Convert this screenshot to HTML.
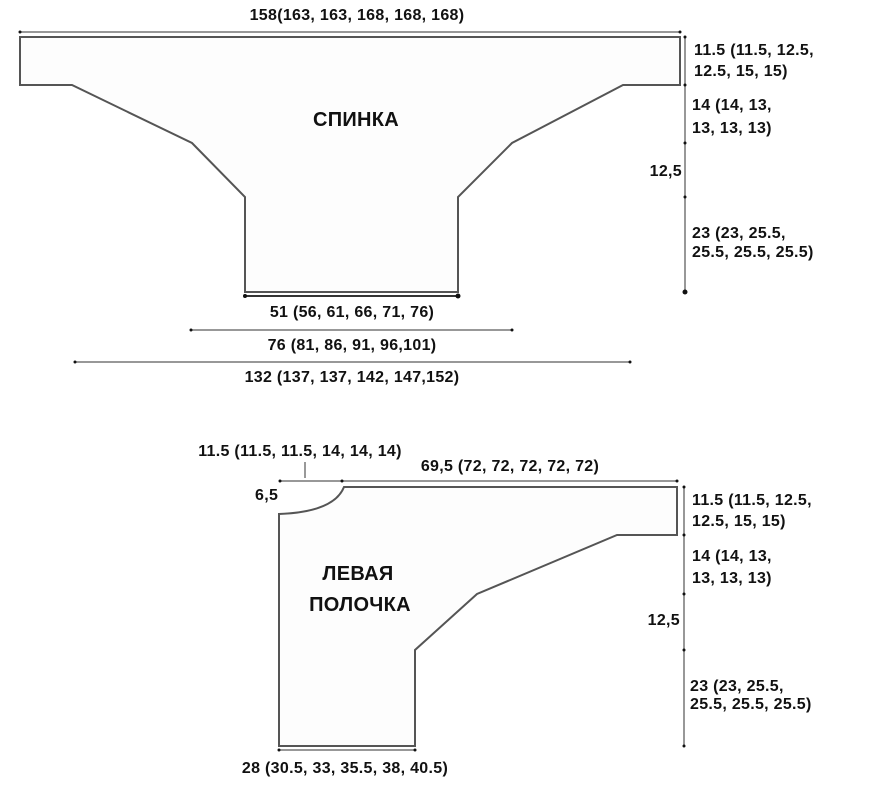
<!DOCTYPE html>
<html><head><meta charset="utf-8"><style>
html,body{margin:0;padding:0;background:#fff;}
svg text{font-family:"Liberation Sans",sans-serif;font-weight:bold;font-size:16px;letter-spacing:0.3px;fill:#111;}
</style></head><body>
<svg width="875" height="785" viewBox="0 0 875 785" xmlns="http://www.w3.org/2000/svg">
<g fill="none" stroke="#555" stroke-width="2">
<polygon points="20,37 680,37 680,85 623,85 512,143 458,197 458,292 245,292 245,197 192,143 72,85 20,85" fill="#fdfdfd"/>
<path d="M279,514 Q334,512 344,487 L677,487 L677,535 L617,535 L477,594 L415,650 L415,746 L279,746 Z" fill="#fdfdfd"/>
</g>
<g stroke="#777" stroke-width="1.5">
<line x1="20" y1="32" x2="680" y2="32"/>
<line x1="685" y1="37" x2="685" y2="292"/>
<line x1="245" y1="296" x2="458" y2="296" stroke="#333" stroke-width="2"/>
<line x1="191" y1="330" x2="512" y2="330"/>
<line x1="75" y1="362" x2="630" y2="362"/>
<line x1="280" y1="481" x2="677" y2="481"/>
<line x1="305" y1="462" x2="305" y2="478"/>
<line x1="684" y1="487" x2="684" y2="746"/>
<line x1="279" y1="750" x2="415" y2="750"/>
</g>
<g fill="#111">
<circle cx="20" cy="32" r="1.5"/><circle cx="680" cy="32" r="1.5"/>
<circle cx="685" cy="37" r="1.5"/><circle cx="685" cy="85" r="1.5"/><circle cx="685" cy="143" r="1.5"/><circle cx="685" cy="197" r="1.5"/><circle cx="685" cy="292" r="2.5"/>
<circle cx="245" cy="296" r="2"/><circle cx="458" cy="296" r="2.5"/>
<circle cx="191" cy="330" r="1.5"/><circle cx="512" cy="330" r="1.5"/>
<circle cx="75" cy="362" r="1.5"/><circle cx="630" cy="362" r="1.5"/>
<circle cx="280" cy="481" r="1.5"/><circle cx="342" cy="481" r="1.5"/><circle cx="677" cy="481" r="1.5"/>
<circle cx="684" cy="487" r="1.5"/><circle cx="684" cy="535" r="1.5"/><circle cx="684" cy="594" r="1.5"/><circle cx="684" cy="650" r="1.5"/><circle cx="684" cy="746" r="1.5"/>
<circle cx="279" cy="750" r="1.5"/><circle cx="415" cy="750" r="1.5"/>
</g>
<text x="357" y="20" text-anchor="middle">158(163, 163, 168, 168, 168)</text>
<text x="694" y="55">11.5 (11.5, 12.5,</text>
<text x="694" y="76">12.5, 15, 15)</text>
<text x="692" y="110">14 (14, 13,</text>
<text x="692" y="133">13, 13, 13)</text>
<text x="682" y="176" text-anchor="end">12,5</text>
<text x="692" y="238">23 (23, 25.5,</text>
<text x="692" y="257">25.5, 25.5, 25.5)</text>
<text x="356" y="126" text-anchor="middle" style="font-size:20px">СПИНКА</text>
<text x="352" y="317" text-anchor="middle">51 (56, 61, 66, 71, 76)</text>
<text x="352" y="350" text-anchor="middle">76 (81, 86, 91, 96,101)</text>
<text x="352" y="382" text-anchor="middle">132 (137, 137, 142, 147,152)</text>
<text x="300" y="456" text-anchor="middle">11.5 (11.5, 11.5, 14, 14, 14)</text>
<text x="510" y="471" text-anchor="middle">69,5 (72, 72, 72, 72, 72)</text>
<text x="255" y="500">6,5</text>
<text x="692" y="505">11.5 (11.5, 12.5,</text>
<text x="692" y="526">12.5, 15, 15)</text>
<text x="692" y="561">14 (14, 13,</text>
<text x="692" y="583">13, 13, 13)</text>
<text x="680" y="625" text-anchor="end">12,5</text>
<text x="690" y="691">23 (23, 25.5,</text>
<text x="690" y="709">25.5, 25.5, 25.5)</text>
<text x="358" y="580" text-anchor="middle" style="font-size:20px">ЛЕВАЯ</text>
<text x="360" y="611" text-anchor="middle" style="font-size:20px">ПОЛОЧКА</text>
<text x="345" y="773" text-anchor="middle">28 (30.5, 33, 35.5, 38, 40.5)</text>
</svg>
</body></html>
